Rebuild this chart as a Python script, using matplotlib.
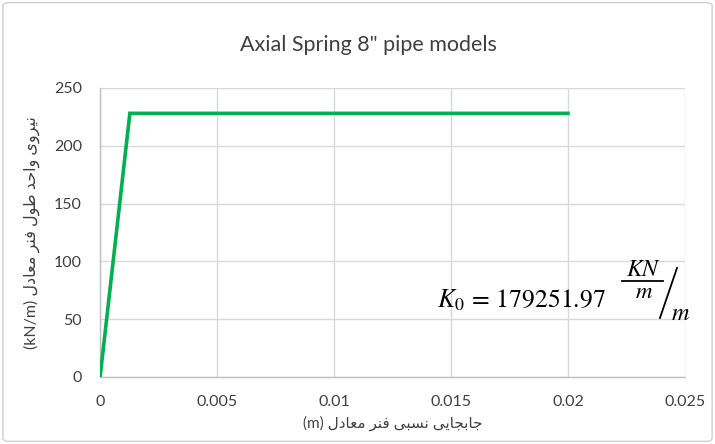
import matplotlib
matplotlib.use("Agg")
import matplotlib.pyplot as plt
from matplotlib.patches import FancyBboxPatch

# Bilinear axial spring: elastic branch up to yield, then constant force
k0 = 179251.97                      # kN/m/m
yield_force = 228.0                 # kN/m
max_disp = 0.02                     # m
disp = [0.0, yield_force / k0, max_disp]
force = [0.0, yield_force, yield_force]

x_ticks = [0, 0.005, 0.01, 0.015, 0.02, 0.025]
x_tick_labels = ["0", "0.005", "0.01", "0.015", "0.02", "0.025"]
y_ticks = [0, 50, 100, 150, 200, 250]

title = 'Axial Spring 8" pipe models'

# Persian labels written in shaped (presentation) forms, in display order
w_niroye = "\uFEEF\uFEED\uFEAE\uFEF4\uFEE7"
w_vahed = "\uFEAA\uFEA3\uFE8D\uFEED"
w_tool = "\uFEDD\uFEEE\uFEC3"
w_fanar = "\uFEAE\uFEE8\uFED3"
w_moadel = "\uFEDD\uFEA9\uFE8E\uFECC\uFEE3"
w_jabejaei = "\uFEF0\uFEF3\uFE8E\uFEA0\uFE91\uFE8E\uFE9F"
w_nesbi = "\uFEF0\uFE92\uFEB4\uFEE7"
y_label = "(kN/m) " + " ".join([w_moadel, w_fanar, w_tool, w_vahed, w_niroye])
x_label = "(m) " + " ".join([w_moadel, w_fanar, w_nesbi, w_jabejaei])

fonts = ["Lato", "DejaVu Sans"]
plt.rcParams["font.family"] = fonts
plt.rcParams["mathtext.fontset"] = "stix"

fig = plt.figure(figsize=(7.15, 4.44), dpi=100)
fig.patches.append(FancyBboxPatch((0.004, 0.006), 0.992, 0.988,
                                  boxstyle="round,pad=0,rounding_size=0.008",
                                  transform=fig.transFigure, facecolor="white",
                                  edgecolor="#d0d0d0", linewidth=1.0, zorder=-10))
ax = fig.add_axes([0.14, 0.151, 0.818, 0.651])
ax.set_facecolor("none")

ax.plot(disp, force, color="#00B050", linewidth=2.6, solid_joinstyle="miter", zorder=3)

ax.set_xlim(0, 0.025)
ax.set_ylim(0, 250)
ax.set_xticks(x_ticks)
ax.set_xticklabels(x_tick_labels)
ax.set_yticks(y_ticks)
ax.grid(True, color="#d9d9d9", linewidth=1.0)
ax.set_axisbelow(True)
for side in ["top", "right"]:
    ax.spines[side].set_visible(False)
for side in ["left", "bottom"]:
    ax.spines[side].set_color("#bfbfbf")
    ax.spines[side].set_linewidth(1.0)
ax.tick_params(length=0, labelsize=11.5, colors="#404040")
ax.tick_params(axis="x", pad=13)
ax.tick_params(axis="y", pad=13)

# Chart title centred on the whole chart area
fig.text(0.515, 0.899, title, fontsize=15.5, color="#404040", ha="center", va="center")
ax.set_xlabel(x_label, fontsize=11, color="#404040", labelpad=5)
ax.set_ylabel(y_label, fontsize=11.5, color="#404040", labelpad=10)

# Stiffness annotation
ax.text(0.0144, 66.5, r"$K_0\,=\,179251.97$", fontsize=18.5, color="black",
        ha="left", va="center")
ax.text(0.02321, 92.6, r"$KN$", fontsize=17, color="black", ha="center", va="center")
ax.plot([0.02232, 0.02404], [83.0, 83.0], color="black", linewidth=1.3, clip_on=False)
ax.text(0.02325, 73.5, r"$m$", fontsize=16.5, color="black", ha="center", va="center")
ax.plot([0.02466, 0.02393], [94.3, 51.0], color="black", linewidth=1.3, clip_on=False)
ax.text(0.02479, 54.5, r"$m$", fontsize=17.5, color="black", ha="center", va="center")

fig.savefig("out.png", dpi=100)
